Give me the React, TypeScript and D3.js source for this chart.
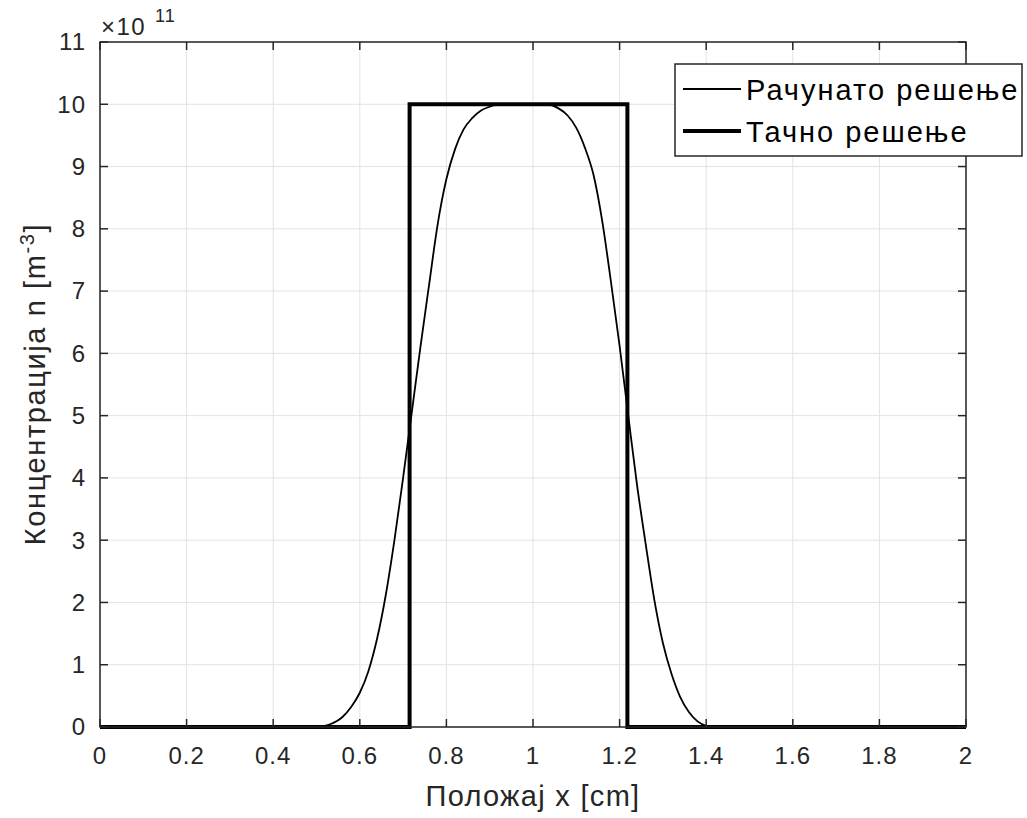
import React from "react";
import * as d3 from "d3";

const xTicks = [0, 0.2, 0.4, 0.6, 0.8, 1, 1.2, 1.4, 1.6, 1.8, 2];
const yTicks = [0, 1, 2, 3, 4, 5, 6, 7, 8, 9, 10, 11];

// Рачунато решење (computed solution), ×10^11 m^-3
const computedX = [0, 0.5, 0.53, 0.56, 0.58, 0.6, 0.62, 0.64, 0.66, 0.68, 0.7, 0.72, 0.74, 0.76, 0.78, 0.8, 0.82, 0.84, 0.86, 0.88, 0.9, 0.92, 0.95, 1.0, 1.03, 1.06, 1.08, 1.1, 1.12, 1.14, 1.16, 1.18, 1.2, 1.22, 1.24, 1.26, 1.28, 1.3, 1.32, 1.34, 1.36, 1.38, 1.4, 1.42, 2];
const computedY = [0, 0, 0.04, 0.16, 0.32, 0.55, 0.9, 1.42, 2.12, 3.0, 4.0, 5.05, 6.1, 7.1, 8.08, 8.8, 9.28, 9.6, 9.78, 9.9, 9.96, 10, 10, 10, 10, 9.93, 9.82, 9.62, 9.3, 8.86, 8.12, 7.15, 6.12, 5.0, 3.9, 2.95, 2.05, 1.35, 0.85, 0.48, 0.24, 0.09, 0.02, 0, 0];

// Тачно решење (exact solution)
const exactX = [0, 0.715, 0.715, 1.218, 1.218, 2];
const exactY = [0, 0, 10, 10, 0, 0];

const legendLabels = ["Рачунато решење", "Тачно решење"];

const W = 1027;
const H = 818;
const L = 100, R = 966, T = 42, B = 727;
const FONT = "'Liberation Sans', Arial, Helvetica, sans-serif";
const AX = "#262626";

export default function App() {
  const x = d3.scaleLinear().domain([0, 2]).range([L, R]);
  const y = d3.scaleLinear().domain([0, 11]).range([B, T]);
  const line = d3.line<[number, number]>().x(d => x(d[0])).y(d => y(d[1]));
  const compPts = computedX.map((v, i) => [v, computedY[i]] as [number, number]);
  const exactPts = exactX.map((v, i) => [v, exactY[i]] as [number, number]);
  const tickLen = 8;

  return (
    <svg width={W} height={H} style={{ position: "absolute", left: 0, top: 0, background: "#fff" }} fontFamily={FONT}>
      <rect x={0} y={0} width={W} height={H} fill="#fff" />
      {/* grid */}
      {xTicks.map(t => (
        <line key={"gx" + t} x1={x(t)} x2={x(t)} y1={T} y2={B} stroke="#e3e3e3" strokeWidth={1} />
      ))}
      {yTicks.map(t => (
        <line key={"gy" + t} x1={L} x2={R} y1={y(t)} y2={y(t)} stroke="#e3e3e3" strokeWidth={1} />
      ))}
      {/* data */}
      <path d={line(exactPts) || ""} fill="none" stroke="#000" strokeWidth={4} strokeLinejoin="miter" />
      <path d={line.curve(d3.curveMonotoneX)(compPts) || ""} fill="none" stroke="#000" strokeWidth={1.8} />
      {/* box */}
      <rect x={L} y={T} width={R - L} height={B - T} fill="none" stroke={AX} strokeWidth={1.5} />
      {/* ticks */}
      {xTicks.map(t => (
        <g key={"tx" + t}>
          <line x1={x(t)} x2={x(t)} y1={B} y2={B - tickLen} stroke={AX} strokeWidth={1.5} />
          <line x1={x(t)} x2={x(t)} y1={T} y2={T + tickLen} stroke={AX} strokeWidth={1.5} />
          <text x={x(t)} y={764} textAnchor="middle" fontSize={24} letterSpacing={1} fill={AX}>{String(t)}</text>
        </g>
      ))}
      {yTicks.map(t => (
        <g key={"ty" + t}>
          <line x1={L} x2={L + tickLen} y1={y(t)} y2={y(t)} stroke={AX} strokeWidth={1.5} />
          <line x1={R} x2={R - tickLen} y1={y(t)} y2={y(t)} stroke={AX} strokeWidth={1.5} />
          <text x={86} y={y(t)} dy="0.35em" textAnchor="end" fontSize={24} letterSpacing={1} fill={AX}>{String(t)}</text>
        </g>
      ))}
      {/* exponent */}
      <text x={101} y={35} fontSize={24} letterSpacing={1.5} fill={AX}>×10</text>
      <text x={155} y={22} fontSize={18} letterSpacing={1} fill={AX}>11</text>
      {/* axis labels */}
      <text x={533} y={806} textAnchor="middle" fontSize={29} letterSpacing={1.3} fill={AX}>Положај x [cm]</text>
      <text transform="translate(45,384) rotate(-90)" textAnchor="middle" fontSize={29} letterSpacing={1.6} fill={AX}>
        Концентрација n [m<tspan dy={-11} fontSize={20}>-3</tspan><tspan dy={11}>]</tspan>
      </text>
      {/* legend */}
      <rect x={675} y={64} width={347} height={92} fill="#fff" stroke={AX} strokeWidth={1.5} />
      <line x1={683} x2={741} y1={89} y2={89} stroke="#000" strokeWidth={1.8} />
      <line x1={683} x2={741} y1={131} y2={131} stroke="#000" strokeWidth={4} />
      <text x={746} y={90} dy="0.35em" fontSize={29} letterSpacing={2} fill="#000">{legendLabels[0]}</text>
      <text x={746} y={132} dy="0.35em" fontSize={29} letterSpacing={2} fill="#000">{legendLabels[1]}</text>
    </svg>
  );
}
